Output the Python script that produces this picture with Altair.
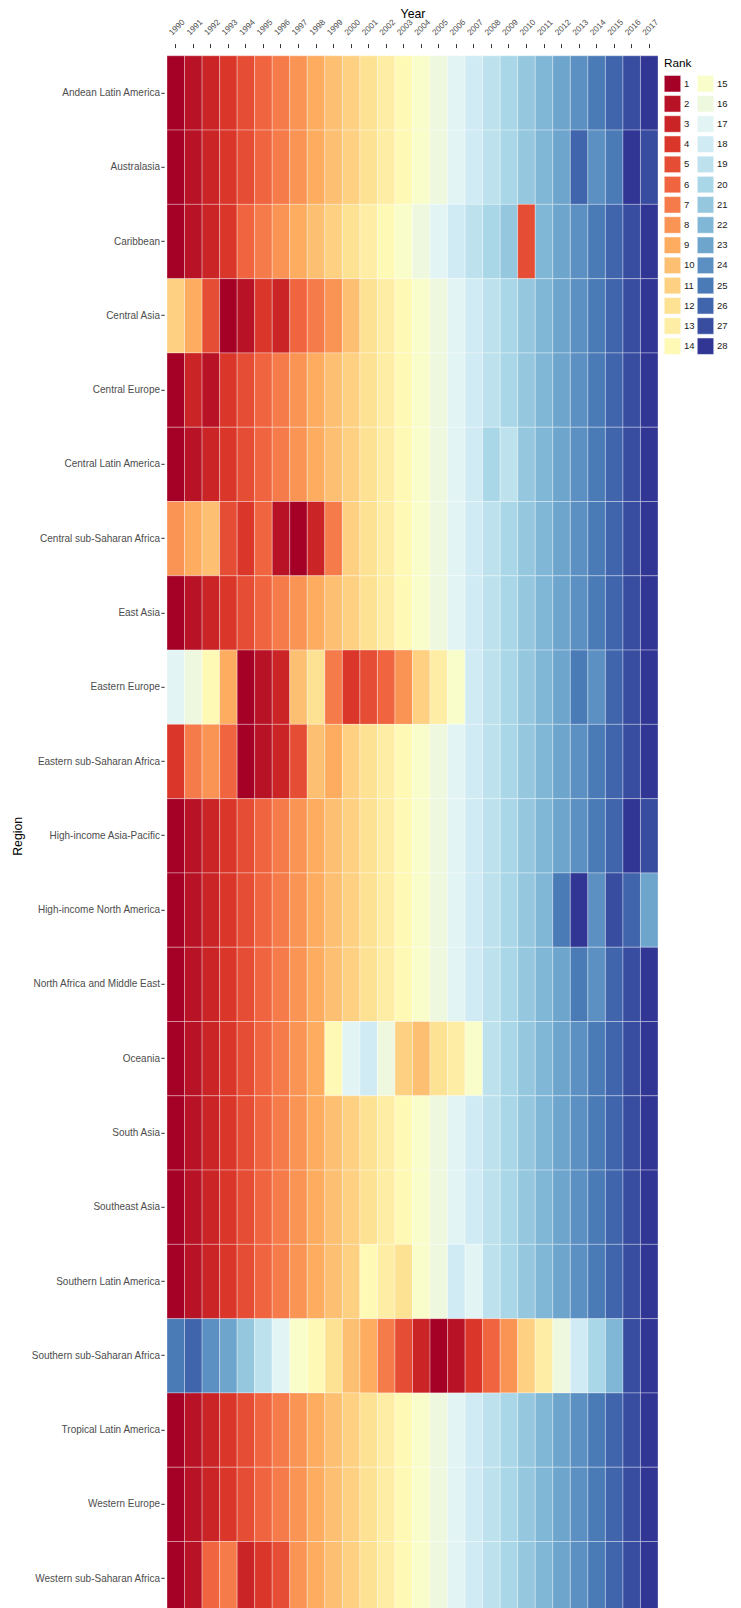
import altair as alt
import pandas as pd

years = [1990, 1991, 1992, 1993, 1994, 1995, 1996, 1997, 1998, 1999,
         2000, 2001, 2002, 2003, 2004, 2005, 2006, 2007, 2008, 2009,
         2010, 2011, 2012, 2013, 2014, 2015, 2016, 2017]

regions = [
    "Andean Latin America", "Australasia", "Caribbean", "Central Asia",
    "Central Europe", "Central Latin America", "Central sub-Saharan Africa",
    "East Asia", "Eastern Europe", "Eastern sub-Saharan Africa",
    "High-income Asia-Pacific", "High-income North America",
    "North Africa and Middle East", "Oceania", "South Asia", "Southeast Asia",
    "Southern Latin America", "Southern sub-Saharan Africa",
    "Tropical Latin America", "Western Europe", "Western sub-Saharan Africa",
]

andean_latin_america = [1, 2, 3, 4, 5, 6, 7, 8, 9, 10, 11, 12, 13, 14, 15, 16, 17, 18, 19, 20, 21, 22, 23, 24, 25, 26, 27, 28]
australasia = [1, 2, 3, 4, 5, 6, 7, 8, 9, 10, 11, 12, 13, 14, 15, 16, 17, 18, 19, 20, 21, 22, 23, 26, 24, 25, 28, 27]
caribbean = [1, 2, 3, 4, 6, 7, 8, 9, 10, 11, 12, 13, 14, 15, 16, 17, 18, 19, 20, 21, 5, 22, 23, 24, 25, 26, 27, 28]
central_asia = [11, 9, 5, 1, 2, 4, 3, 6, 7, 8, 10, 12, 13, 14, 15, 16, 17, 18, 19, 20, 21, 22, 23, 24, 25, 26, 27, 28]
central_europe = [1, 3, 2, 4, 5, 6, 7, 8, 9, 10, 11, 12, 13, 14, 15, 16, 17, 18, 19, 20, 21, 22, 23, 24, 25, 26, 27, 28]
central_latin_america = [1, 2, 3, 4, 5, 6, 7, 8, 9, 10, 11, 12, 13, 14, 15, 16, 17, 18, 20, 19, 21, 22, 23, 24, 25, 26, 27, 28]
central_ssa = [8, 9, 10, 5, 4, 6, 2, 1, 3, 7, 11, 12, 13, 14, 15, 16, 17, 18, 19, 20, 21, 22, 23, 24, 25, 26, 27, 28]
east_asia = [1, 2, 3, 4, 5, 6, 7, 8, 9, 10, 11, 12, 13, 14, 15, 16, 17, 18, 19, 20, 21, 22, 23, 24, 25, 26, 27, 28]
eastern_europe = [17, 16, 14, 9, 1, 2, 3, 10, 12, 7, 4, 5, 6, 8, 11, 13, 15, 18, 19, 20, 21, 22, 23, 25, 24, 26, 27, 28]
eastern_ssa = [4, 7, 8, 6, 1, 2, 3, 5, 10, 9, 11, 12, 13, 14, 15, 16, 17, 18, 19, 20, 21, 22, 23, 24, 25, 26, 27, 28]
hi_asia_pacific = [1, 2, 3, 4, 5, 6, 7, 8, 9, 10, 11, 12, 13, 14, 15, 16, 17, 18, 19, 20, 21, 22, 23, 24, 25, 26, 28, 27]
hi_north_america = [1, 2, 3, 4, 5, 6, 7, 8, 9, 10, 11, 12, 13, 14, 15, 16, 17, 18, 19, 20, 21, 22, 25, 28, 24, 27, 26, 23]
north_africa_me = [1, 2, 3, 4, 5, 6, 7, 8, 9, 10, 11, 12, 13, 14, 15, 16, 17, 18, 19, 20, 21, 22, 23, 25, 24, 26, 27, 28]
oceania = [1, 2, 3, 4, 5, 6, 7, 8, 9, 14, 17, 18, 16, 11, 10, 12, 13, 15, 19, 20, 21, 22, 23, 24, 25, 26, 27, 28]
south_asia = [1, 2, 3, 4, 5, 6, 7, 8, 9, 10, 11, 12, 13, 14, 15, 16, 17, 18, 19, 20, 21, 22, 23, 24, 25, 26, 27, 28]
southeast_asia = [1, 2, 3, 4, 5, 6, 7, 8, 9, 10, 11, 12, 13, 14, 15, 16, 17, 18, 19, 20, 21, 22, 23, 24, 25, 26, 27, 28]
southern_latin_america = [1, 2, 3, 4, 5, 6, 7, 8, 9, 10, 11, 14, 13, 12, 15, 16, 18, 17, 19, 20, 21, 22, 23, 24, 25, 26, 27, 28]
southern_ssa = [25, 26, 24, 23, 21, 19, 17, 15, 14, 12, 10, 9, 7, 5, 3, 1, 2, 4, 6, 8, 11, 13, 16, 18, 20, 22, 27, 28]
tropical_latin_america = [1, 2, 3, 4, 5, 6, 7, 8, 9, 10, 11, 12, 13, 14, 15, 16, 17, 18, 19, 20, 21, 22, 23, 24, 25, 26, 27, 28]
western_europe = [1, 2, 3, 4, 5, 6, 7, 8, 9, 10, 11, 12, 13, 14, 15, 16, 17, 18, 19, 20, 21, 22, 23, 24, 25, 26, 27, 28]
western_ssa = [1, 2, 6, 7, 3, 4, 5, 8, 9, 10, 11, 12, 13, 14, 15, 16, 17, 18, 19, 20, 21, 22, 23, 24, 25, 26, 27, 28]

rank_rows = [
    andean_latin_america, australasia, caribbean, central_asia, central_europe,
    central_latin_america, central_ssa, east_asia, eastern_europe, eastern_ssa,
    hi_asia_pacific, hi_north_america, north_africa_me, oceania, south_asia,
    southeast_asia, southern_latin_america, southern_ssa, tropical_latin_america,
    western_europe, western_ssa,
]

rank_levels = [1, 2, 3, 4, 5, 6, 7, 8, 9, 10, 11, 12, 13, 14,
               15, 16, 17, 18, 19, 20, 21, 22, 23, 24, 25, 26, 27, 28]

# long table built from the arrays above
records = []
for region, row in zip(regions, rank_rows):
    for year, rank in zip(years, row):
        records.append({"Region": region, "Year": str(year), "Rank": rank})
df = pd.DataFrame(records)

# RdYlBu palette (red = rank 1 -> blue = rank 28), interpolated to 28 steps
brewer = ["#a50026", "#d73027", "#f46d43", "#fdae61", "#fee090", "#ffffbf",
          "#e0f3f8", "#abd9e9", "#74add1", "#4575b4", "#313695"]


def _hex(c):
    return [int(c[i:i + 2], 16) for i in (1, 3, 5)]


def _interp(t):
    pos = t * (len(brewer) - 1)
    i = min(int(pos), len(brewer) - 2)
    f = pos - i
    a, b = _hex(brewer[i]), _hex(brewer[i + 1])
    return "#%02x%02x%02x" % tuple(round(a[k] + (b[k] - a[k]) * f) for k in range(3))


n = len(rank_levels)
palette = [_interp(k / (n - 1)) for k in range(n)]

W, H = 491, 1560
FONT = "Liberation Sans"

chart = alt.Chart(df).mark_rect(
    stroke="#ffffff", strokeWidth=0.6, strokeOpacity=0.55
).encode(
    x=alt.X(
        "Year:O",
        sort=[str(y) for y in years],
        scale=alt.Scale(paddingInner=0, paddingOuter=0),
        axis=alt.Axis(
            orient="top", title="Year", labelAngle=315, labelAlign="left",
            labelBaseline="bottom", labelPadding=7, labelOffset=-2,
            offset=8.2, tickSize=4, titleY=-29.6, titleBaseline="alphabetic",
        ),
    ),
    y=alt.Y(
        "Region:N",
        sort=regions,
        scale=alt.Scale(paddingInner=0, paddingOuter=0),
        axis=alt.Axis(
            title="Region", offset=2.8, tickSize=3.4, labelPadding=1.3,
            titleX=-147, titleBaseline="middle",
        ),
    ),
    color=alt.Color(
        "Rank:O",
        scale=alt.Scale(domain=rank_levels, range=palette),
        legend=alt.Legend(
            title="Rank", orient="none", legendX=497, legendY=2.5, columns=2,
            symbolType="square", symbolSize=272, symbolStrokeWidth=0.5,
            symbolStrokeColor="#ffffff", symbolOpacity=1, rowPadding=1.2,
            columnPadding=1, labelOffset=3, labelFontSize=9.5,
            titleFontSize=11.8, titlePadding=5, titleFontWeight="normal",
            labelColor="#1a1a1a", titleColor="#000000",
            labelFont=FONT, titleFont=FONT,
        ),
    ),
).properties(
    width=W,
    height=H,
    autosize=alt.AutoSizeParams(type="none"),
    padding={"left": 159, "top": 47.8, "right": 75, "bottom": 0},
).configure_axis(
    labelFont=FONT, titleFont=FONT, labelFontSize=10, titleFontSize=12.3,
    labelColor="#4d4d4d", titleColor="#000000", titleFontWeight="normal",
    tickColor="#333333", tickWidth=1, domain=False, grid=False,
).configure_axisX(
    labelFontSize=8.3,
).configure_view(
    stroke="transparent"
)

chart.save("out.html", embed_options={"renderer": "svg", "actions": False})
